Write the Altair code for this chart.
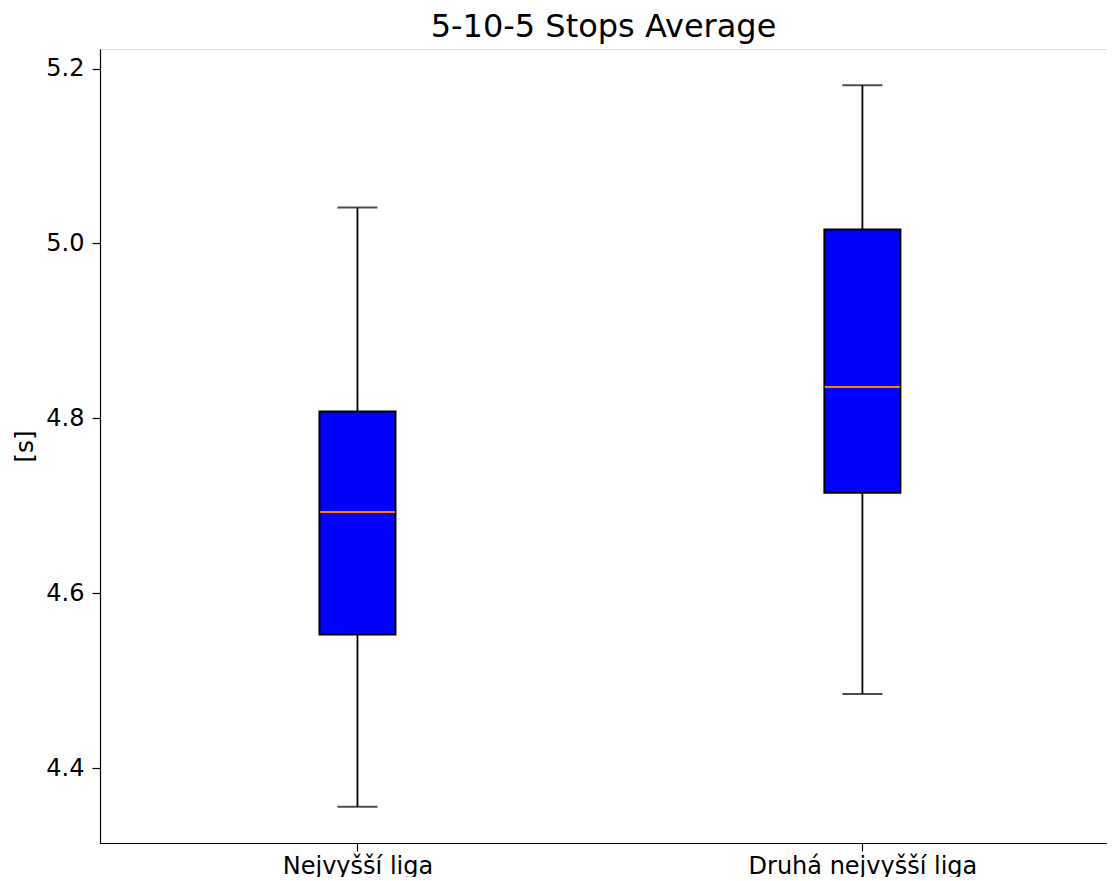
import altair as alt
import pandas as pd

groups = ["Nejvyšší liga", "Druhá nejvyšší liga"]
positions = [1, 2]
whisker_low = [4.356, 4.485]
q1 = [4.553, 4.715]
median = [4.693, 4.836]
q3 = [4.808, 5.016]
whisker_high = [5.041, 5.181]

y_ticks = [4.4, 4.6, 4.8, 5.0, 5.2]

df = pd.DataFrame({
    "group": groups,
    "pos": positions,
    "low": whisker_low,
    "q1": q1,
    "median": median,
    "q3": q3,
    "high": whisker_high,
})

FONT = "DejaVu Sans"
label_expr = " : ".join(
    [f"datum.value == {p} ? '{g}'" for p, g in zip(positions, groups)]
) + " : ''"

x_scale = alt.Scale(domain=[0.5, 2.4745], nice=False, zero=False)
y_scale = alt.Scale(domain=[4.3147, 5.2223], nice=False, zero=False)

x_enc = alt.X(
    "pos:Q",
    scale=x_scale,
    axis=alt.Axis(
        values=positions, labelExpr=label_expr, title=None, grid=False,
        tickSize=8, tickColor="black", tickWidth=1.2, domainColor="black",
        domainWidth=1.2, labelFont=FONT, labelFontSize=24, labelColor="black",
        labelPadding=3, labelAngle=0, labelLimit=0,
    ),
)
y_axis = alt.Axis(
    values=y_ticks, format=".1f", title="[s]", grid=False,
    tickSize=8, tickColor="black", tickWidth=1.2, domainColor="black",
    domainWidth=1.2, labelFont=FONT, labelFontSize=24, labelColor="black",
    labelPadding=8, titleFont=FONT, titleFontSize=25, titleFontWeight="normal",
    titleColor="black", titlePadding=8,
)

base = alt.Chart(df)

whisk_low = base.mark_rule(color="black", strokeWidth=1.8).encode(
    x=x_enc, y=alt.Y("low:Q", scale=y_scale, axis=y_axis), y2="q1:Q"
)
whisk_high = base.mark_rule(color="black", strokeWidth=1.8).encode(
    x="pos:Q", y="q3:Q", y2="high:Q"
)
cap_low = base.mark_tick(color="black", orient="horizontal", size=40, thickness=2).encode(
    x="pos:Q", y="low:Q"
)
cap_high = base.mark_tick(color="black", orient="horizontal", size=40, thickness=2).encode(
    x="pos:Q", y="high:Q"
)
box = base.mark_bar(
    orient="vertical", size=76, color="#0000ff", stroke="black", strokeWidth=2
).encode(x="pos:Q", y="q1:Q", y2="q3:Q")
med = base.mark_tick(
    color="#ff7f0e", orient="horizontal", size=75, thickness=2, opacity=1
).encode(x="pos:Q", y="median:Q")

chart = (
    alt.layer(whisk_low, whisk_high, cap_low, cap_high, box, med)
    .properties(
        width=1007,
        height=794,
        title=alt.TitleParams(
            "5-10-5 Stops Average", font=FONT, fontSize=32, fontWeight="normal",
            color="black", anchor="middle", offset=5,
        ),
        autosize=alt.AutoSizeParams(type="none"),
        padding={"left": 92, "top": 41, "right": 0, "bottom": 34},
    )
    .configure_view(stroke="black", strokeWidth=1.2)
    .configure(background="white")
)

chart.save("out.html", embed_options={"renderer": "svg", "actions": False})
